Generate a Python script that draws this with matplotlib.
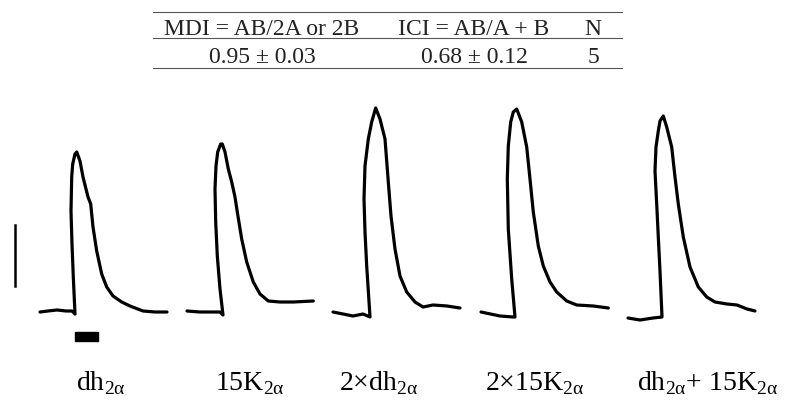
import matplotlib
matplotlib.use("Agg")
import matplotlib.pyplot as plt
from matplotlib.patches import Rectangle

plt.rcParams['font.family'] = ['Liberation Serif', 'DejaVu Serif']
plt.rcParams['mathtext.fontset'] = 'custom'
plt.rcParams['mathtext.rm'] = 'Liberation Serif'

# table values
table_header = ["MDI = AB/2A or 2B", "ICI = AB/A + B", "N"]
table_row = ["0.95 ± 0.03", "0.68 ± 0.12", "5"]

# condition labels
labels = [r"dh$_{\mathregular{2α}}$",
          r"15K$_{\mathregular{2α}}$",
          r"2×dh$_{\mathregular{2α}}$",
          r"2×15K$_{\mathregular{2α}}$",
          r"dh$_{\mathregular{2α}}$+ 15K$_{\mathregular{2α}}$"]

# traces: time from stimulus onset, amplitude above baseline
t1 = [-35, -27, -18, -9, -3, 0, -1.7, -3, -4, -3.3, -2.3, 0, 1.7, 5, 8, 13, 15.7, 18, 21.7, 26.7, 31.7, 38, 46.7, 55, 68, 80, 92]
a1 = [0, 1, 2, 1, 1, -2, 35, 68, 101, 135, 148, 158, 160, 151, 135, 115, 108, 85, 61, 38, 25, 16, 10, 6, 1, 0, 0]

t2 = [-36, -23, -10, -3, 0, -3, -5.7, -7.3, -8, -7, -5.3, -2.3, -0.7, 2, 5.3, 8.7, 12, 14.3, 18.7, 23.7, 30.3, 37, 45.3, 57, 70.3, 90.3]
a2 = [1, 0, 0, 0, -3, 23, 56, 90, 123, 146, 160, 168, 168, 160, 143, 130, 115, 100, 73, 50, 30, 18, 11, 10, 10, 11]

t3 = [-37, -27, -17, -7, 0, -3.3, -5, -6, -5, -1.7, 1.7, 5.7, 10, 15, 18.3, 21, 25, 30, 36.7, 45, 53, 63, 77, 90]
a3 = [2, 0, -2, 0, -3, 48, 82, 115, 148, 175, 192, 206, 195, 175, 132, 98, 65, 38, 22, 12, 7, 9, 8, 6]

t4 = [-34, -15, -2, 0, -3.3, -6.7, -7.7, -6.7, -4.3, -1.7, 1.7, 6.7, 11.7, 15, 18.3, 23.3, 28.3, 35, 41.7, 51.7, 61.7, 78.3, 93.3]
a4 = [2, -2, -3, -3, 35, 85, 135, 168, 192, 202, 205, 192, 167, 135, 102, 68, 48, 32, 22, 13, 9, 8, 6]

t5 = [-34, -22, -9, 0, -2, -3.7, -5.3, -7, -6, -3.7, -2, 1.3, 4.7, 9.7, 13, 16.3, 21.3, 28, 36.3, 44.7, 53, 65, 75, 85, 93]
a5 = [0, -2, 0, 1, 47, 81, 114, 147, 171, 187, 197, 202, 191, 171, 141, 114, 81, 51, 31, 21, 16, 14, 13, 9, 7]

traces = [(t1, a1), (t2, a2), (t3, a3), (t4, a4), (t5, a5)]

# layout of each panel: onset position and baseline level
onsets = [75, 223, 370, 515, 662]
baselines = [313, 313, 315, 315, 319]
label_x = [76, 215, 339, 485, 637]

fig = plt.figure(figsize=(8.05, 4.02), dpi=100)
ax = fig.add_axes([0, 0, 1, 1])
ax.set_xlim(0, 805)
ax.set_ylim(402, 0)
ax.axis('off')

for (t, a), x0, y0 in zip(traces, onsets, baselines):
    xs = [x0 + v for v in t]
    ys = [y0 - v for v in a]
    ax.plot(xs, ys, color='black', lw=2.3, solid_joinstyle='round', solid_capstyle='round')

# scale bar and stimulus bar
ax.plot([15, 15], [226, 287], color='black', lw=1.8)
ax.add_patch(Rectangle((75, 333), 23, 9, color='black'))

for x, s in zip(label_x, labels):
    ax.text(x, 390, s, fontsize=20, ha='left', va='baseline')

# table
rule_kw = dict(color='#555555', lw=0.8)
ax.plot([153, 622], [13, 13], **rule_kw)
ax.plot([153, 622], [39, 39], **rule_kw)
ax.plot([153, 622], [69, 69], **rule_kw)
col_x = [262, 474, 593]
for x, h, r in zip(col_x, table_header, table_row):
    ax.text(x, 35, h, fontsize=17, ha='center', va='baseline', color='#222222')
    ax.text(x, 63, r, fontsize=17, ha='center', va='baseline', color='#222222')

fig.savefig('out.png', dpi=100)
